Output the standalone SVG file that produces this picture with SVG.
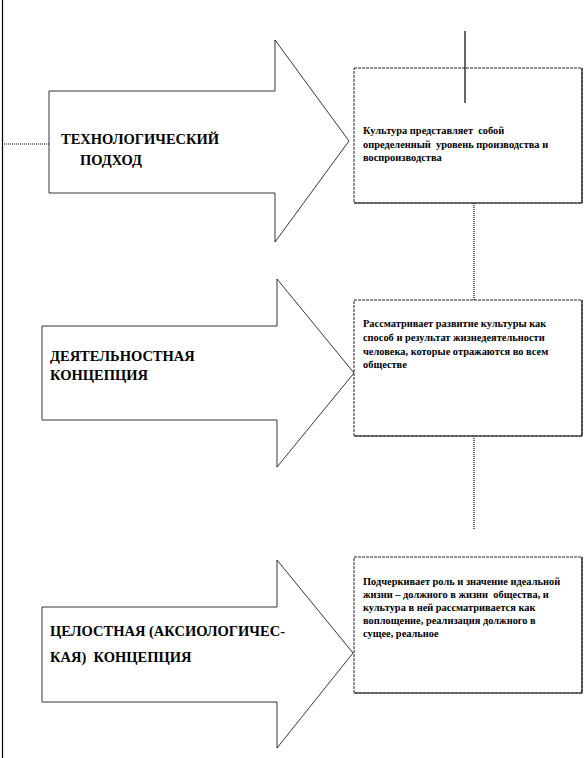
<svg xmlns="http://www.w3.org/2000/svg" width="587" height="758" viewBox="0 0 587 758">
<style>
.arrow{fill:#fff;stroke:#000;stroke-width:0.8}
.box{fill:#fff;stroke:#222;stroke-width:1;stroke-dasharray:3,1}
.edge{stroke:#222;stroke-width:1.2;fill:none}
.lbl{font-weight:bold;font-size:14.5px;fill:#000}
.txt{font-weight:bold;font-size:10.4px;fill:#000}
.conn{stroke:#000;stroke-width:1.2;fill:none}
.dot{stroke:#000;stroke-width:1.2;fill:none;stroke-dasharray:1,1}
</style>
<g font-family="Liberation Serif, DejaVu Serif, serif">
<g id="connectors">
<line class="conn" x1="2.5" y1="0" x2="2.5" y2="758"/>
<line class="dot" x1="2" y1="144" x2="49" y2="144"/>
<line class="dot" x1="474" y1="203" x2="474" y2="300"/>
<line class="dot" x1="474" y1="436" x2="474" y2="529"/>
</g>
<g id="arrow1">
<polygon class="arrow" points="49,91 275,91 275,40 349,141 275,242 275,193 49,193"/>
<text class="lbl" x="61" y="144">ТЕХНОЛОГИЧЕСКИЙ</text>
<text class="lbl" x="80" y="165">ПОДХОД</text>
</g>
<g id="arrow2">
<polygon class="arrow" points="42,326 277,326 277,279 354,373 277,467 277,420 42,420"/>
<text class="lbl" x="50" y="361">ДЕЯТЕЛЬНОСТНАЯ</text>
<text class="lbl" x="50" y="380">КОНЦЕПЦИЯ</text>
</g>
<g id="arrow3">
<polygon class="arrow" points="42,607 277,607 277,560 353,653 277,748 277,702 42,702"/>
<text class="lbl" x="50" y="636">ЦЕЛОСТНАЯ (АКСИОЛОГИЧЕС-</text>
<text class="lbl" x="50" y="662" xml:space="preserve">КАЯ)  КОНЦЕПЦИЯ</text>
</g>
<g id="box1">
<rect class="box" x="354" y="68" width="228" height="135"/>
<polyline class="edge" points="582,68 582,203 354,203"/>
<text class="txt" x="363" y="134" xml:space="preserve">Культура представляет  собой</text>
<text class="txt" x="363" y="148" xml:space="preserve">определенный  уровень производства и</text>
<text class="txt" x="363" y="161">воспроизводства</text>
</g>
<g id="box2">
<rect class="box" x="354" y="300" width="228" height="136"/>
<polyline class="edge" points="582,300 582,436 354,436"/>
<text class="txt" x="363" y="327">Рассматривает развитие культуры как</text>
<text class="txt" x="363" y="341">способ и результат жизнедеятельности</text>
<text class="txt" x="363" y="355">человека, которые отражаются во всем</text>
<text class="txt" x="363" y="368">обществе</text>
</g>
<g id="box3">
<rect class="box" x="354" y="557" width="228" height="136"/>
<polyline class="edge" points="582,557 582,693 354,693"/>
<text class="txt" x="363" y="585">Подчеркивает роль и значение идеальной</text>
<text class="txt" x="363" y="598" xml:space="preserve">жизни – должного в жизни  общества, и</text>
<text class="txt" x="363" y="611">культура в ней рассматривается как</text>
<text class="txt" x="363" y="624" xml:space="preserve">воплощение, реализация должного в</text>
<text class="txt" x="363" y="637">сущее, реальное</text>
</g>
<g id="top-line">
<line class="conn" x1="465" y1="31" x2="465" y2="103"/>
</g>
</g>
</svg>
